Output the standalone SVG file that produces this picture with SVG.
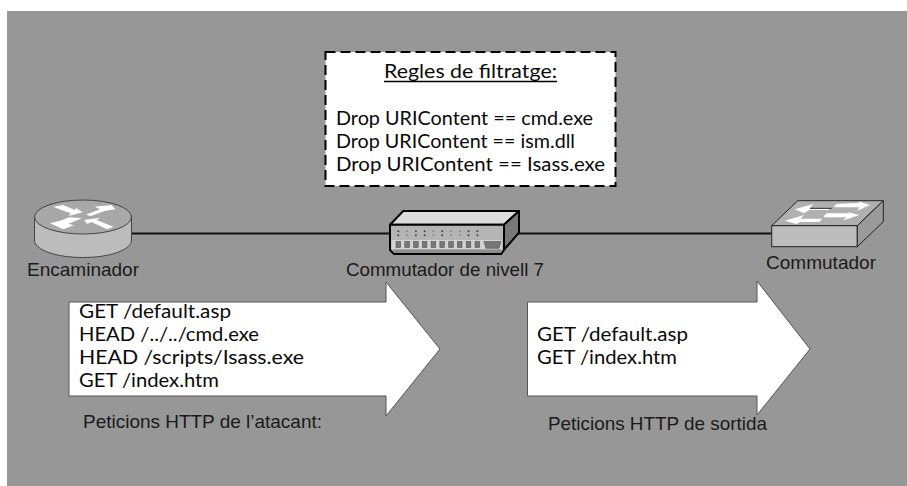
<svg xmlns="http://www.w3.org/2000/svg" width="907" height="486" viewBox="0 0 907 486">
<style>
.h{font-family:"Liberation Sans",Arial,sans-serif;font-size:18.6px;fill:#1a1a1a}
.c{font-family:Lato,"Noto Sans",sans-serif;font-size:18.500px;fill:#0a0a0a}
.big{fill:#fff;stroke:#555;stroke-width:1}
.o{stroke:#000;stroke-width:2;stroke-linejoin:round}
.p{fill:#777;stroke:#555;stroke-width:.6}
.d{fill:#444}
.e{fill:#888}
</style>
<rect width="907" height="486" fill="#fff"/>
<rect x="7" y="11" width="900" height="475" fill="#979797"/>
<g id="connectors">
<line x1="131" y1="233.500" x2="390" y2="233.500" stroke="#111" stroke-width="2"/>
<line x1="517" y1="233.500" x2="772" y2="233.500" stroke="#111" stroke-width="2"/>
</g>
<g id="rules">
<rect x="325.500" y="52" width="290" height="134" fill="#fff" stroke="#000" stroke-width="2" stroke-dasharray="10 5"/>
<text class="c" x="384" y="78" textLength="173" lengthAdjust="spacingAndGlyphs">Regles de filtratge:</text>
<line x1="384" y1="81.500" x2="557" y2="81.500" stroke="#000" stroke-width="1.400"/>
<text class="c" x="336" y="125" textLength="257" lengthAdjust="spacingAndGlyphs">Drop URIContent == cmd.exe</text>
<text class="c" x="336" y="148" textLength="239" lengthAdjust="spacingAndGlyphs">Drop URIContent == ism.dll</text>
<text class="c" x="336" y="171" textLength="269" lengthAdjust="spacingAndGlyphs">Drop URIContent == Isass.exe</text>
</g>
<g id="router">
<path d="M34.500 217V240C34.500 250 56 257.500 83 257.500S131.500 250 131.500 240V217Z" fill="#bcbcbc" stroke="#444"/>
<ellipse cx="83" cy="217" rx="48.500" ry="17" fill="#a8a8a8" stroke="#444"/>
<g transform="translate(0 180) scale(.3333)" fill="#fff">
<polygon points="160,80 190,75 224,90 228,84 248,97 206,108 212,100 178,88"/>
<polygon points="258,104 300,88 284,80 335,75 346,88 316,92 272,108"/>
<polygon points="246,115 205,131 222,136 190,148 150,130 180,122 208,112"/>
<polygon points="252,120 300,113 290,120 340,140 322,148 274,126 262,132"/>
</g>
<text class="h" x="27" y="276" textLength="112" lengthAdjust="spacingAndGlyphs">Encaminador</text>
</g>
<g id="l7switch">
<polygon class="o" points="390,224.700 403.300,211 519,211 504,224.700" fill="#dcdcdc"/>
<polygon class="o" points="504,224.700 519,211 519,232.700 503.300,250.500 501,254 504,224.700" fill="#787878"/>
<polygon class="o" points="390,224.700 504,224.700 504,250 501,254 394,254 390,250" fill="#b4b4b4"/>
<rect x="391.500" y="240" width="110.500" height="9.500" fill="#d2d2d2"/>
<polygon points="393,249.500 502,249.500 500,253 394,253" fill="#8e8e8e"/>
<g id="leds">
<circle class="d" cx="398.300" cy="231.300" r="1"/><circle class="d" cx="398.300" cy="235.300" r="1"/>
<circle class="e" cx="407.100" cy="231.300" r="1"/><circle class="e" cx="407.100" cy="235.300" r="1"/>
<circle class="d" cx="415.900" cy="231.300" r="1"/><circle class="d" cx="415.900" cy="235.300" r="1"/>
<circle class="d" cx="424.600" cy="231.300" r="1"/><circle class="d" cx="424.600" cy="235.300" r="1"/>
<circle class="e" cx="433.400" cy="231.300" r="1"/><circle class="e" cx="433.400" cy="235.300" r="1"/>
<circle class="d" cx="442.200" cy="231.300" r="1"/><circle class="d" cx="442.200" cy="235.300" r="1"/>
<circle class="e" cx="451" cy="231.300" r="1"/><circle class="e" cx="451" cy="235.300" r="1"/>
<circle class="e" cx="459.700" cy="231.300" r="1"/><circle class="e" cx="459.700" cy="235.300" r="1"/>
<circle class="d" cx="468.500" cy="231.300" r="1"/><circle class="d" cx="468.500" cy="235.300" r="1"/>
<circle class="d" cx="477.300" cy="231.300" r="1"/><circle class="d" cx="477.300" cy="235.300" r="1"/>
</g>
<g id="ports">
<rect class="p" x="396" y="241.500" width="4.600" height="6"/>
<rect class="p" x="404.800" y="241.500" width="4.600" height="6"/>
<rect class="p" x="413.600" y="241.500" width="4.600" height="6"/>
<rect class="p" x="422.300" y="241.500" width="4.600" height="6"/>
<rect class="p" x="431.100" y="241.500" width="4.600" height="6"/>
<rect class="p" x="439.900" y="241.500" width="4.600" height="6"/>
<rect class="p" x="448.700" y="241.500" width="4.600" height="6"/>
<rect class="p" x="457.400" y="241.500" width="4.600" height="6"/>
<rect class="p" x="466.200" y="241.500" width="4.600" height="6"/>
<rect class="p" x="475" y="241.500" width="4.600" height="6"/>
<polygon class="p" points="484,241.500 501,241.500 499,248.300 486,248.300"/>
</g>
<text class="h" x="346" y="276" textLength="198" lengthAdjust="spacingAndGlyphs">Commutador de nivell 7</text>
</g>
<g id="switch">
<polygon points="771.700,225.700 797.700,200.700 883.300,200.700 857.300,225.700" fill="#b0b0b0" stroke="#222"/>
<rect x="771.700" y="225.700" width="85.600" height="21" fill="#bcbcbc" stroke="#222"/>
<polygon points="857.300,225.700 883.300,200.700 883.300,221.700 857.300,246.700" fill="#9a9a9a" stroke="#222"/>
<g transform="translate(730 180) scale(.3333)" fill="#fff">
<polygon points="194,88 250,72 240,84 302,84 296,90 238,90 222,100"/>
<polygon points="312,80 320,72 390,68 385,64 420,75 382,92 388,82 316,82"/>
<polygon points="164,122 222,105 212,116 276,116 268,126 210,126 200,132"/>
<polygon points="282,108 290,100 360,100 352,96 388,105 338,122 350,112 284,112"/>
<line x1="240" y1="85" x2="305" y2="85" stroke="#222" stroke-width="3"/>
</g>
<text class="h" x="766" y="269" textLength="110" lengthAdjust="spacingAndGlyphs">Commutador</text>
</g>
<g id="attacker-requests">
<polygon class="big" points="69,302 386,302 386,282 440,349 386,416 386,396 69,396"/>
<text class="c" x="79" y="318" textLength="152" lengthAdjust="spacingAndGlyphs">GET /default.asp</text>
<text class="c" x="79" y="341" textLength="180" lengthAdjust="spacingAndGlyphs">HEAD /../../cmd.exe</text>
<text class="c" x="79" y="364" textLength="225" lengthAdjust="spacingAndGlyphs">HEAD /scripts/Isass.exe</text>
<text class="c" x="79" y="387" textLength="140" lengthAdjust="spacingAndGlyphs">GET /index.htm</text>
<text class="h" x="83" y="428" textLength="239" lengthAdjust="spacingAndGlyphs">Peticions HTTP de l’atacant:</text>
</g>
<g id="outgoing-requests">
<polygon class="big" points="527.500,302 757,302 757,281 810,349 757,415 757,396 527.500,396"/>
<text class="c" x="537" y="341" textLength="151" lengthAdjust="spacingAndGlyphs">GET /default.asp</text>
<text class="c" x="537" y="364" textLength="140" lengthAdjust="spacingAndGlyphs">GET /index.htm</text>
<text class="h" x="548" y="430" textLength="219" lengthAdjust="spacingAndGlyphs">Peticions HTTP de sortida</text>
</g>
</svg>
